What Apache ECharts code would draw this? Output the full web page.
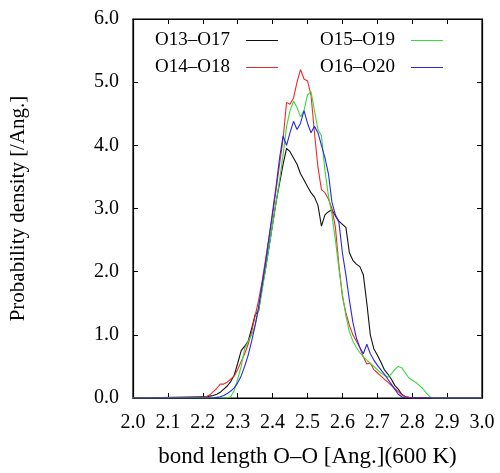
<!DOCTYPE html>
<html>
<head>
<meta charset="utf-8">
<script src="https://cdn.jsdelivr.net/npm/echarts@6/dist/echarts.min.js"></script>
</head>
<body style="margin:0">
<div id="chart" style="width:500px;height:473px"></div>
<div id="err" style="position:absolute;left:110px;top:180px;width:370px;font:11px monospace;color:#c00"></div>
<script>
window.onerror = function (msg, src, line, col, e) {
  document.getElementById('err').textContent += 'ERR: ' + msg + ' @' + line + ':' + col + ' '
}

// bond length grid (Ang.)
var xs = [2.00,
  2.20, 2.21, 2.22, 2.23, 2.24, 2.25, 2.26, 2.27, 2.28, 2.29,
  2.30, 2.31, 2.32, 2.33, 2.34, 2.35, 2.36, 2.37, 2.38, 2.39,
  2.40, 2.41, 2.42, 2.43, 2.44, 2.45, 2.46, 2.47, 2.48, 2.49,
  2.50, 2.51, 2.52, 2.53, 2.54, 2.55, 2.56, 2.57, 2.58, 2.59,
  2.60, 2.61, 2.62, 2.63, 2.64, 2.65, 2.66, 2.67, 2.68, 2.69,
  2.70, 2.71, 2.72, 2.73, 2.74, 2.75, 2.76, 2.77, 2.78, 2.79,
  2.80, 2.81, 2.82, 2.83, 2.84, 2.85, 2.86, 2.87, 2.88, 2.89,
  2.90, 3.00]

var o13_o17 = [0,
  0.02, 0.02, 0.03, 0.04, 0.06, 0.09, 0.14, 0.19, 0.26, 0.36,
  0.55, 0.75, 0.82, 0.90, 1.10, 1.32, 1.38, 1.75, 2.05, 2.40,
  2.75, 3.10, 3.40, 3.70, 3.95, 3.90, 3.80, 3.70, 3.55, 3.45,
  3.35, 3.25, 3.18, 3.05, 2.72, 2.90, 2.95, 2.98, 2.88, 2.80,
  2.75, 2.70, 2.30, 2.18, 2.12, 2.08, 1.95, 1.50, 1.00, 0.78,
  0.68, 0.57, 0.45, 0.38, 0.30, 0.20, 0.14, 0.06, 0.02, 0.01,
  0, 0, 0, 0, 0, 0, 0, 0, 0, 0,
  0, 0]

var o14_o18 = [0,
  0.01, 0.02, 0.05, 0.10, 0.15, 0.22, 0.22, 0.25, 0.30, 0.35,
  0.45, 0.58, 0.70, 0.85, 1.05, 1.30, 1.55, 1.85, 2.20, 2.55,
  2.90, 3.30, 3.70, 4.10, 4.68, 4.65, 4.75, 5.00, 5.20, 5.05,
  5.02, 4.80, 4.20, 3.65, 3.30, 3.25, 3.15, 3.00, 2.70, 2.10,
  1.60, 1.35, 1.15, 1.00, 0.90, 0.80, 0.65, 0.54, 0.55, 0.45,
  0.40, 0.35, 0.30, 0.25, 0.20, 0.15, 0.10, 0.05, 0.02, 0.01,
  0, 0, 0, 0, 0, 0, 0, 0, 0, 0,
  0, 0]

var o15_o19 = [0,
  0, 0, 0, 0, 0, 0, 0, 0, 0.02, 0.12,
  0.30, 0.50, 0.78, 0.90, 1.00, 1.15, 1.40, 1.70, 2.05, 2.40,
  2.75, 3.10, 3.45, 3.85, 4.30, 4.55, 4.70, 4.60, 4.45, 4.55,
  4.80, 4.85, 4.55, 4.25, 4.15, 3.60, 3.20, 2.90, 2.50, 2.05,
  1.65, 1.30, 1.05, 0.90, 0.80, 0.72, 0.65, 0.60, 0.55, 0.50,
  0.45, 0.40, 0.36, 0.33, 0.38, 0.45, 0.50, 0.48, 0.40, 0.32,
  0.28, 0.25, 0.20, 0.15, 0.08, 0.02, 0, 0, 0, 0,
  0, 0]

var o16_o20 = [0,
  0, 0, 0, 0, 0.01, 0.02, 0.04, 0.07, 0.11, 0.16,
  0.24, 0.35, 0.50, 0.68, 0.90, 1.15, 1.45, 1.80, 2.15, 2.55,
  2.95, 3.35, 3.80, 4.15, 4.00, 4.20, 4.38, 4.25, 4.35, 4.55,
  4.35, 4.20, 4.30, 4.20, 4.00, 3.80, 3.55, 3.10, 2.90, 2.78,
  2.30, 1.95, 1.55, 1.20, 0.95, 0.80, 0.70, 0.85, 0.70, 0.60,
  0.52, 0.45, 0.38, 0.30, 0.22, 0.14, 0.06, 0.02, 0, 0,
  0, 0, 0, 0, 0, 0, 0, 0, 0, 0,
  0, 0]

var names  = ['O13–O17', 'O14–O18', 'O15–O19', 'O16–O20']
var colors = ['#111111', '#f02828', '#3ad83a', '#2828e0']
var values = [o13_o17, o14_o18, o15_o19, o16_o20]

var font = '"Liberation Serif", "DejaVu Serif", serif'

function pairs(ys) {
  var out = []
  for (var i = 0; i < xs.length; ++i) {
    out.push([xs[i], ys[i]])
  }
  return out
}

var series = []
for (var i = 0; i < names.length; ++i) {
  series.push({
    name: names[i],
    type: 'line',
    data: pairs(values[i]),
    showSymbol: false,
    symbol: 'none',
    color: colors[i],
    lineStyle: { color: colors[i], width: 1.1 },
    itemStyle: { color: colors[i] }
  })
}

function tick() {
  return { show: true, inside: true, length: 5, lineStyle: { color: '#000', width: 1 } }
}
function line() {
  return { show: true, onZero: false, lineStyle: { color: '#000', width: 1.2 } }
}

function legendAt(from, to, left) {
  return {
    data: names.slice(from, to), left: left, top: 26,
    orient: 'vertical',
    align: 'right',
    icon: 'rect',
    itemWidth: 32,
    itemHeight: 1.2,
    itemGap: 8,
    textStyle: { fontFamily: font, fontSize: 19, color: '#000', padding: [0, 11, 0, 0] },
    selectedMode: false
  }
}

var option = {
  animation: false,
  backgroundColor: '#fff',
  color: colors,
  grid: { left: 106, right: 18, top: 19, bottom: 74, show: true, borderColor: '#000', borderWidth: 1.2 },
  legend: [
    legendAt(0, 2, 150),
    legendAt(2, 4, 315)
  ],
  xAxis: [
    {
      type: 'value', min: 2.0, max: 3.0, interval: 0.1,
      name: 'bond length O–O [Ang.](600 K)',
      nameLocation: 'middle', nameGap: 47,
      nameTextStyle: { fontFamily: font, fontSize: 23, color: '#000' },
      axisLine: line(), axisTick: tick(), splitLine: { show: false },
      axisLabel: { fontFamily: font, fontSize: 20, color: '#000', margin: 15,
        formatter: function (v) { return v.toFixed(1) } }
    },
    {
      type: 'value', min: 2.0, max: 3.0, interval: 0.1, position: 'top',
      axisLine: line(), axisTick: tick(), splitLine: { show: false },
      axisLabel: { show: false }
    }
  ],
  yAxis: [
    {
      type: 'value', min: 0, max: 6, interval: 1,
      name: 'Probability density [/Ang.]',
      nameLocation: 'middle', nameGap: 80,
      nameTextStyle: { fontFamily: font, fontSize: 21, color: '#000', padding: [0, 0, 24, 0] },
      axisLine: line(), axisTick: tick(), splitLine: { show: false },
      axisLabel: { fontFamily: font, fontSize: 20, color: '#000', margin: 14,
        formatter: function (v) { return v.toFixed(1) } }
    },
    {
      type: 'value', min: 0, max: 6, interval: 1, position: 'right',
      axisLine: line(), axisTick: tick(), splitLine: { show: false },
      axisLabel: { show: false }
    }
  ],
  series: series
}

try {
  var chart = echarts.init(document.getElementById('chart'))
  chart.setOption(option)
} catch (e) {
  document.getElementById('err').textContent += 'CATCH: ' + e.message + ' '
}
</script>
</body>
</html>
